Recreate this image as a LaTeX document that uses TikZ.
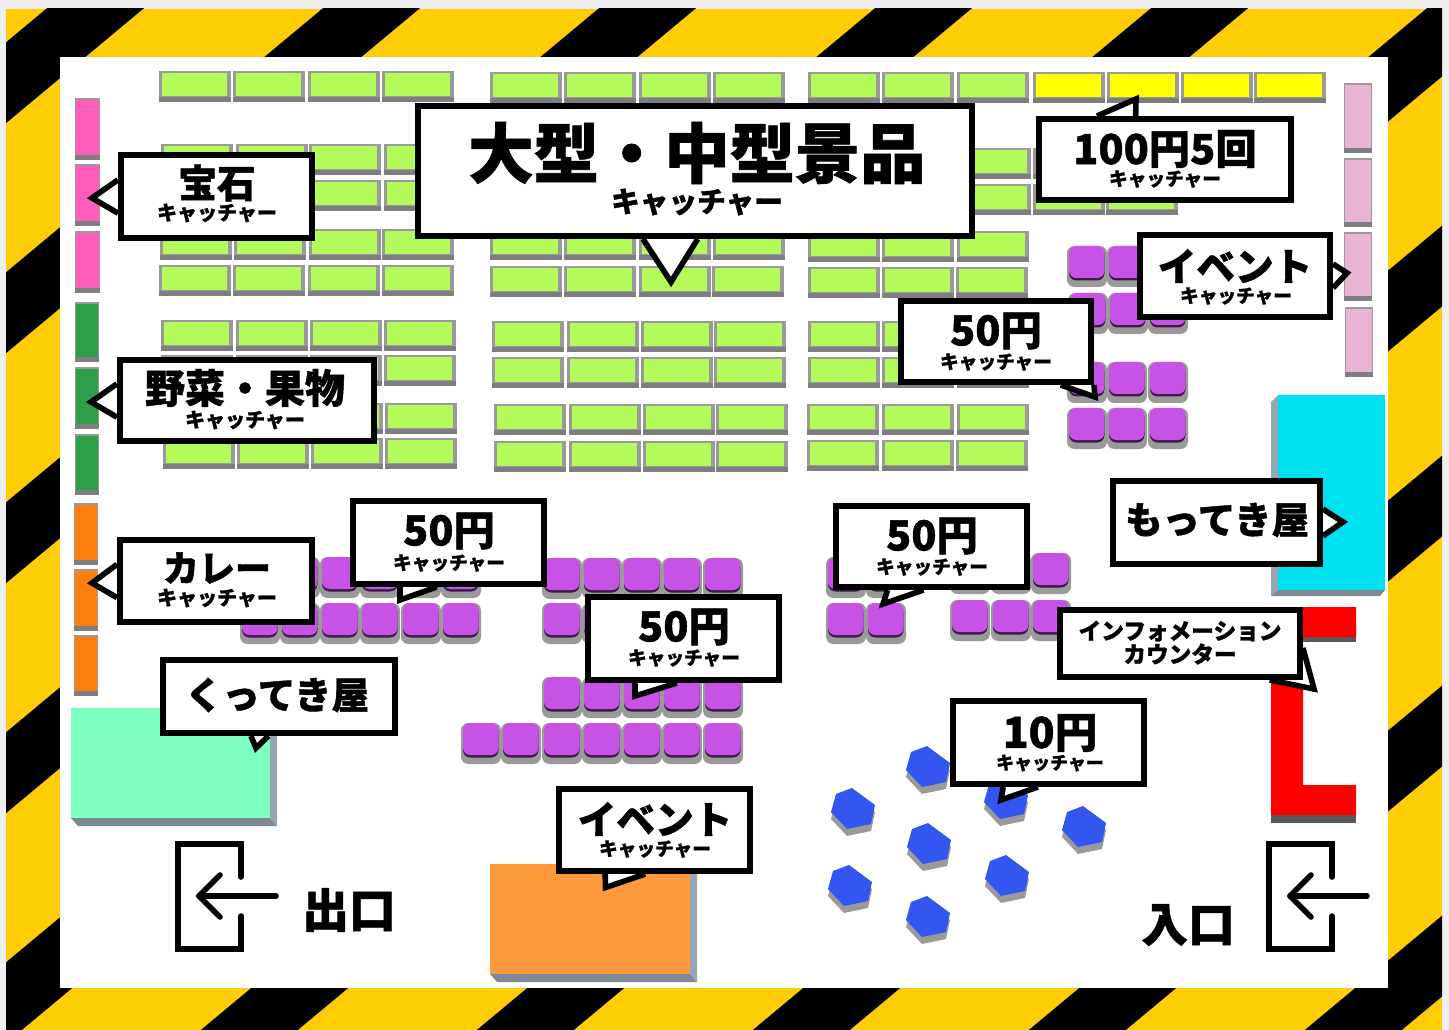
\documentclass[tikz,border=0pt]{standalone}
\usepackage{fontspec}
\setmainfont{Noto Sans CJK JP}[BoldFeatures={FakeBold=1.1}]
\pgfdeclarelayer{tailLayer}
\pgfdeclarelayer{groundLayer}
\pgfsetlayers{groundLayer,tailLayer,main}
\definecolor{hazY}{HTML}{FFCD05}
\definecolor{outerBg}{HTML}{EFEFF1}
\definecolor{tileGray}{HTML}{9A9A9A}
\definecolor{tileDark}{HTML}{7E7E80}
\definecolor{limeC}{HTML}{B4FA5A}
\definecolor{yelC}{HTML}{FFFF00}
\definecolor{pinkC}{HTML}{FF5CBC}
\definecolor{dgreenC}{HTML}{2F9E48}
\definecolor{orC}{HTML}{FF7F0E}
\definecolor{lpinkC}{HTML}{E9B4D4}
\definecolor{purC}{HTML}{C653E6}
\definecolor{purD}{HTML}{3D1A4A}
\definecolor{blueC}{HTML}{3355F0}
\definecolor{tealC}{HTML}{7DFFC2}
\definecolor{oraC}{HTML}{FF9A3C}
\definecolor{cyanC}{HTML}{00E1F0}
\definecolor{sideA}{HTML}{96A6B2}
\definecolor{sideB}{HTML}{7D8A96}
\tikzset{
  x=0.75pt,y=-0.75pt,
  labelbox/.style={draw=black,fill=white,line width=4.5pt,inner sep=0pt,rectangle,miter limit=10},
  tailsty/.style={draw=black,fill=white,line width=4.2pt,line join=miter,miter limit=25},
  doorline/.style={draw=black,line width=4.2pt,line cap=round,line join=miter},
  arrowline/.style={draw=black,line width=4.2pt,line cap=round,line join=round},
  txt/.style={inner sep=0pt,text=black,font=\bfseries\fontsize{#1}{#1}\selectfont},
  sub/.style={txt=15},
  subs/.style={txt=14},
}
\newcommand{\gtile}[3]{%
  \fill[tileGray] (#1,#2) rectangle +(72,31);
  \fill[tileDark] (#1,#2+26) rectangle +(72,5);
  \fill[#3] (#1+3,#2+2) rectangle (#1+68,#2+25);}
\newcommand{\grow}[3][limeC]{\foreach \X in {#3}{\gtile{\X}{#2}{#1}}}
\newcommand{\vtile}[5]{%
  \fill[tileGray] (#1,#2) rectangle (#1+#3,#4);
  \fill[tileDark] (#1,#4-5) rectangle (#1+#3,#4);
  \fill[#5] (#1+1,#2+2) rectangle (#1+#3-1,#4-5);}
\newcommand{\ptile}[2]{%
  \fill[tileGray,rounded corners=5.5pt] (#1,#2) rectangle +(40,41);
  \fill[purD,rounded corners=5.5pt] (#1+2,#2+2) rectangle +(35.5,32.5);
  \fill[purC,rounded corners=5.5pt] (#1+2,#2) rectangle +(35.5,32);}
\newcommand{\prow}[2]{\foreach \X in {#2}{\ptile{\X}{#1}}}
\newcommand{\hexa}[2]{%
  \fill[tileGray] (#1-1,#2-20+7) -- (#1+22,#2-3+7) -- (#1+18,#2+16+7) -- (#1-6,#2+21+7) -- (#1-22,#2+4+7) -- (#1-17,#2-14+7) -- cycle;
  \fill[blueC] (#1-1,#2-20) -- (#1+22,#2-3) -- (#1+18,#2+16) -- (#1-6,#2+21) -- (#1-22,#2+4) -- (#1-17,#2-14) -- cycle;}
\newcommand{\lab}[5]{\node[labelbox,minimum width={(#4-#2-6)*0.75pt},minimum height={(#5-#3-6)*0.75pt}] (#1) at ({(#2+#4)/2},{(#3+#5)/2}) {};}
\newcommand{\tl}[3]{\begin{pgfonlayer}{tailLayer}\draw[tailsty] (#1) -- (#2) -- (#3);\end{pgfonlayer}}
\begin{document}
\begin{tikzpicture}
\useasboundingbox (0,0) rectangle (1449,1030);
\begin{pgfonlayer}{groundLayer}
\fill[outerBg] (0,0) rectangle (1449,1030);
\begin{scope}
\clip (6,9) rectangle (1442,1030);
\fill[hazY] (6,9) rectangle (1442,1030);
\foreach \k in {0,...,9}{
  \pgfmathsetmacro{\cc}{56.8+276*\k}
  \fill[black] ({\cc},0) -- ({\cc+97},0) -- ({\cc+97-1.2*1040},1040) -- ({\cc-1.2*1040},1040) -- cycle;
}
\end{scope}
\fill[white] (60,57) rectangle (1388,988);
% lime tiles, left block
\grow{71}{159,233,308,382}
\grow{144}{161,236,309,384}
\grow{180}{161,236,309,384}
\grow{229}{160,234,309,382}
\grow{265}{159,233,308,382}
\grow{320}{161,236,310,384}
\grow{355}{161,236,310,384}
\grow{403}{163,237,311,385}
\grow{438}{163,237,311,385}
% middle block
\grow{72}{490,564,639,713}
\grow{229}{490,564,639,713}
\grow{266}{490,564,639,712}
\grow{321}{492,567,641,714}
\grow{357}{492,567,641,714}
\grow{404}{494,569,643,716}
\grow{441}{494,569,643,716}
% right block
\grow{72}{808,882,957}
\grow[yelC]{72}{1033,1107,1181,1254}
\grow{148}{808,882,959,1033,1106}
\grow{184}{808,882,959,1033,1106}
\grow{231}{808,882,957}
\grow{267}{808,882,956}
\grow{321}{808,882,957}
\grow{357}{808,882,957}
\grow{404}{807,882,957}
\grow{440}{807,882,956}
% side columns
\vtile{75}{98}{25}{160}{pinkC}
\vtile{75}{164}{25}{226}{pinkC}
\vtile{75}{231}{25}{293}{pinkC}
\vtile{75}{302}{24}{362}{dgreenC}
\vtile{75}{367}{24}{429}{dgreenC}
\vtile{75}{434}{24}{495}{dgreenC}
\vtile{74}{503}{24}{565}{orC}
\vtile{74}{569}{24}{631}{orC}
\vtile{74}{635}{24}{696}{orC}
\vtile{1344}{83}{28}{153}{lpinkC}
\vtile{1344}{158}{28}{227}{lpinkC}
\vtile{1344}{232}{28}{301}{lpinkC}
\vtile{1345}{307}{28}{377}{lpinkC}
% purple tiles
\prow{246}{1067,1107,1148}
\prow{293}{1068,1108,1148}
\prow{362}{1067,1107,1148}
\prow{408}{1067,1107,1148}
\prow{557}{280,320,360,401,441}
\prow{603}{240,280,320,360,401,441}
\prow{558}{542,582,622,662,703}
\prow{603}{542,582,622,662,703}
\prow{677}{542,582,622,662,703}
\prow{723}{461,501,542,582,622,662,703}
\prow{557}{826,866}
\prow{603}{826,866}
\prow{553}{950,991,1031}
\prow{600}{950,991,1031}
% hexagons
\hexa{853}{808}\hexa{928}{766}\hexa{929}{843}\hexa{850}{885}
\hexa{928}{916}\hexa{1084}{826}\hexa{1007}{875}\hexa{1006}{798}
% big blocks
\fill[sideA] (270,708) -- (277,715) -- (277,826) -- (270,818) -- cycle;
\fill[sideB] (71,818) -- (78,826) -- (277,826) -- (270,818) -- cycle;
\fill[tealC] (71,708) rectangle (270,818);
\fill[sideA] (690,864) -- (697,871) -- (697,982) -- (690,974) -- cycle;
\fill[sideB] (490,974) -- (497,982) -- (697,982) -- (690,974) -- cycle;
\fill[oraC] (490,864) rectangle (690,974);
\fill[sideA] (1278,395) -- (1271,402) -- (1271,596) -- (1278,590) -- cycle;
\fill[sideB] (1278,590) -- (1271,596) -- (1380,596) -- (1385,590) -- cycle;
\fill[cyanC] (1278,395) rectangle (1385,590);
% red counter
\fill[black!65] (1303,637) rectangle (1356,642);
\fill[black!65] (1271,815) rectangle (1356,823);
\fill[red] (1271,607) -- (1356,607) -- (1356,637) -- (1303,637) -- (1303,785) -- (1356,785) -- (1356,815) -- (1271,815) -- cycle;
% doors
\draw[doorline] (241,877) -- (241,844) -- (178,844) -- (178,949) -- (241,949) -- (241,916);
\draw[arrowline] (276,896) -- (199,896);
\draw[arrowline] (220,875) -- (199,896) -- (220,917);
\draw[doorline] (1332,877) -- (1332,844) -- (1269,844) -- (1269,949) -- (1332,949) -- (1332,916);
\draw[arrowline] (1367,896) -- (1290,896);
\draw[arrowline] (1311,875) -- (1290,896) -- (1311,917);
\end{pgfonlayer}
% callout boxes
\lab{gem}{118}{152}{315}{241}
\lab{veg}{117}{357}{377}{444}
\lab{cur}{117}{537}{315}{625}
\lab{big}{415}{103}{975}{239}
\lab{hun}{1036}{116}{1294}{203}
\lab{evA}{1137}{232}{1333}{320}
\lab{fiA}{898}{298}{1094}{385}
\lab{fiB}{350}{498}{547}{587}
\lab{fiC}{585}{594}{782}{683}
\lab{fiD}{833}{503}{1030}{590}
\lab{mot}{1110}{478}{1323}{567}
\lab{kut}{160}{657}{398}{736}
\lab{evB}{556}{786}{753}{874}
\lab{ten}{950}{698}{1147}{787}
\lab{inf}{1057}{607}{1303}{680}
% tails
\coordinate (tipGem) at (92,198);
\coordinate (tipVeg) at (91,402);
\coordinate (tipCur) at (92,583);
\coordinate (tipBig) at (671,282);
\coordinate (tipHun) at (1136,99);
\coordinate (tipEvA) at (1347,273);
\coordinate (tipFiA) at (1095,397);
\coordinate (tipFiB) at (400,600);
\coordinate (tipFiC) at (635,696);
\coordinate (tipFiD) at (883,604);
\coordinate (tipMot) at (1343,522);
\coordinate (tipKut) at (256,748);
\coordinate (tipEvB) at (605.5,887.5);
\coordinate (tipTen) at (1001,800);
\coordinate (tipInf) at (1314,689);
\tl{[yshift=12.5pt]gem.west}{tipGem}{[yshift=-12.5pt]gem.west}
\tl{[yshift=12.5pt]veg.west}{tipVeg}{[yshift=-12.5pt]veg.west}
\tl{[yshift=12.5pt]cur.west}{tipCur}{[yshift=-12.5pt]cur.west}
\tl{[xshift=-39pt]big.south}{tipBig}{[xshift=2pt]big.south}
\tl{[xshift=-51pt]hun.north}{tipHun}{[xshift=-22pt]hun.north}
\tl{[yshift=9pt]evA.east}{tipEvA}{[yshift=-9pt]evA.east}
\tl{[xshift=-25pt]fiA.south east}{tipFiA}{fiA.south east}
\tl{[xshift=-36.4pt]fiB.south}{tipFiB}{[xshift=-9pt]fiB.south}
\tl{[xshift=-36.4pt]fiC.south}{tipFiC}{[xshift=-5pt]fiC.south}
\tl{[xshift=-33pt]fiD.south}{tipFiD}{[xshift=-6pt]fiD.south}
\tl{[yshift=10pt]mot.east}{tipMot}{[yshift=-10pt]mot.east}
\tl{[xshift=-21pt]kut.south}{tipKut}{[xshift=-8pt]kut.south}
\tl{[xshift=-37pt]evB.south}{tipEvB}{[xshift=-7pt]evB.south}
\tl{[xshift=-34pt]ten.south}{tipTen}{[xshift=-8pt]ten.south}
\tl{[xshift=-25pt]inf.south east}{tipInf}{[yshift=24pt]inf.south east}
% texts
\node[txt=49] (tBig) at (697,153) {大型・中型景品};
\node[txt=21.5] (sBig) at (697,202) {キャッチャー};
\node[txt=29] (tGem) at (217,183) {宝石};
\node[sub] (sGem) at (217,213) {キャッチャー};
\node[txt=30] (tVeg) at (245,388) {野菜・果物};
\node[sub] (sVeg) at (245,420) {キャッチャー};
\node[txt=27] (tCur) at (217,568) {カレー};
\node[sub] (sCur) at (217,598) {キャッチャー};
\node[txt=31] (tHun) at (1165,149) {100円5回};
\node[subs] (sHun) at (1165,179) {キャッチャー};
\node[txt=29] (tEvA) at (1235,266) {イベント};
\node[subs] (sEvA) at (1236,296) {キャッチャー};
\node[txt=31] (tFiA) at (996,331) {50円};
\node[subs] (sFiA) at (996,362) {キャッチャー};
\node[txt=31] (tFiB) at (449,531) {50円};
\node[subs] (sFiB) at (449,563) {キャッチャー};
\node[txt=31] (tFiC) at (684,627) {50円};
\node[subs] (sFiC) at (684,658) {キャッチャー};
\node[txt=31] (tFiD) at (932,536) {50円};
\node[subs] (sFiD) at (932,567) {キャッチャー};
\node[txt=28] (tMot) at (1217,520) {もってき屋};
\node[txt=28] (tKut) at (277,695) {くってき屋};
\node[txt=29] (tEvB) at (655,819) {イベント};
\node[subs] (sEvB) at (655,849) {キャッチャー};
\node[txt=32] (tTen) at (1050,733) {10円};
\node[txt=13.5] (sTen) at (1050,763) {キャッチャー};
\node[txt=17] (tInfA) at (1180,631) {インフォメーション};
\node[txt=17] (tInfB) at (1180,654) {カウンター};
\node[txt=35] (tOut) at (349,910) {出口};
\node[txt=35] (tIn) at (1188,925) {入口};
\end{tikzpicture}
\end{document}
